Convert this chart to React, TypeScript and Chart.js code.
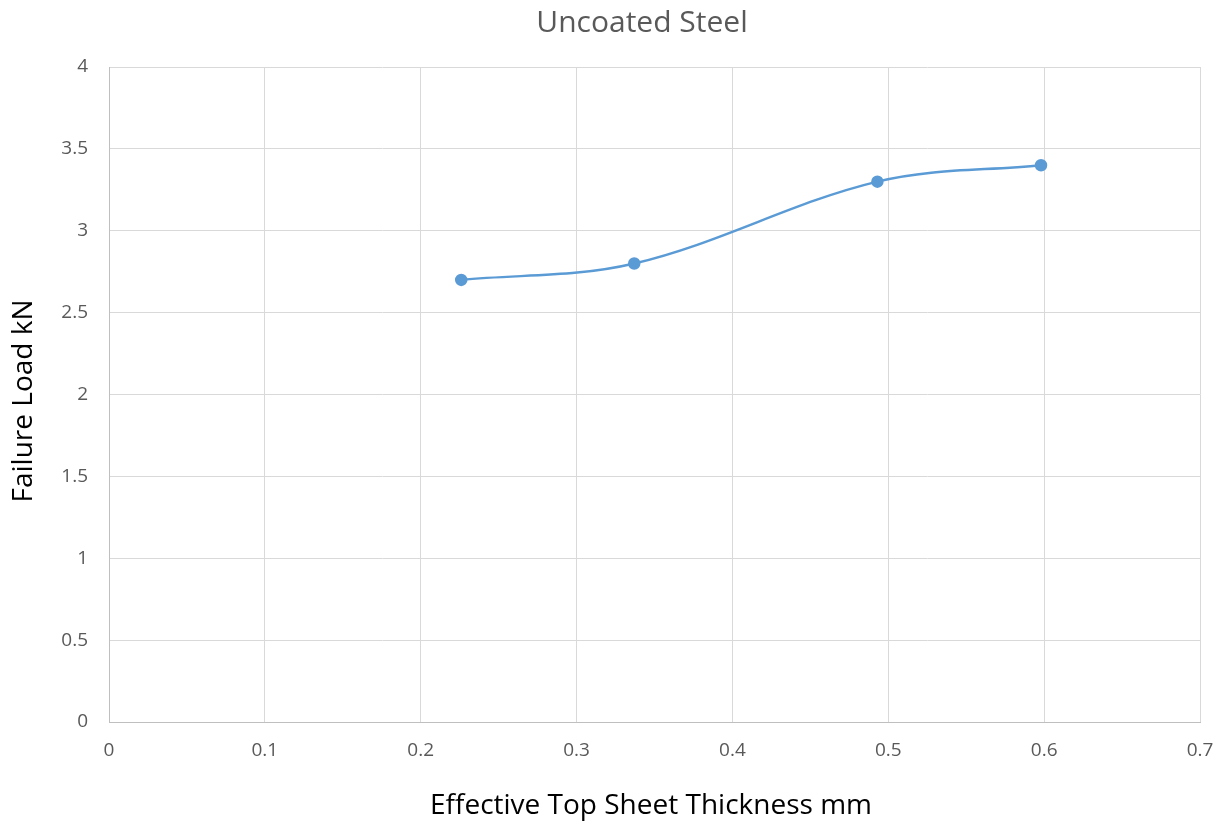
import React, { useEffect, useRef } from "react";
import { Chart, registerables } from "chart.js";

Chart.register(...registerables);

const thickness = [0.226, 0.337, 0.493, 0.598];
const failureLoad = [2.7, 2.8, 3.3, 3.4];
const xTicksMax = 0.7;
const yTicksMax = 4;
const chartTitle = "Uncoated Steel";
const xTitle = "Effective Top Sheet Thickness mm";
const yTitle = "Failure Load kN";

const FONT = "'Open Sans', Lato, sans-serif";

const titlesPlugin = {
  id: "titlesPlugin",
  afterDraw(chart: any) {
    const ctx = chart.ctx;
    ctx.save();
    ctx.textAlign = "center";
    ctx.textBaseline = "alphabetic";
    ctx.fillStyle = "#595959";
    ctx.font = `30px ${FONT}`;
    ctx.fillText(chartTitle, 642, 32);
    ctx.fillStyle = "#000000";
    ctx.font = `28px ${FONT}`;
    ctx.fillText(xTitle, 651, 814);
    ctx.translate(32, 401);
    ctx.rotate(-Math.PI / 2);
    ctx.fillText(yTitle, 0, 0);
    ctx.restore();
  },
};

export default function App() {
  const ref = useRef<HTMLCanvasElement | null>(null);
  useEffect(() => {
    if (!ref.current) return;
    const chart = new Chart(ref.current, {
      type: "scatter",
      data: {
        datasets: [
          {
            data: thickness.map((x, i) => ({ x, y: failureLoad[i] })),
            showLine: true,
            borderColor: "#5b9bd5",
            backgroundColor: "#5b9bd5",
            borderWidth: 2.5,
            pointRadius: 5,
            pointHoverRadius: 5,
            tension: 0.35,
          },
        ],
      },
      options: {
        responsive: false,
        animation: false,
        layout: { padding: { left: 0, right: 25, top: 67, bottom: 0 } },
        plugins: {
          legend: { display: false },
          tooltip: { enabled: false },
          title: { display: false },
        },
        scales: {
          x: {
            type: "linear",
            min: 0,
            max: xTicksMax,
            ticks: {
              stepSize: 0.1,
              color: "#595959",
              font: { family: FONT, size: 19 },
              padding: 17,
              callback: (v: any) => String(Math.round(Number(v) * 10) / 10),
            },
            grid: { color: "#d9d9d9", drawTicks: false },
            border: { color: "#bfbfbf" },
            afterFit: (s: any) => {
              s.height = 103;
              s.paddingLeft = 0;
              s.paddingRight = 0;
            },
          },
          y: {
            type: "linear",
            min: 0,
            max: yTicksMax,
            ticks: {
              stepSize: 0.5,
              color: "#595959",
              font: { family: FONT, size: 19 },
              padding: 21,
              callback: (v: any) => String(Math.round(Number(v) * 10) / 10),
            },
            grid: { color: "#d9d9d9", drawTicks: false },
            border: { color: "#bfbfbf" },
            afterFit: (s: any) => {
              s.width = 109;
              s.paddingTop = 0;
              s.paddingBottom = 0;
            },
          },
        },
      },
      plugins: [titlesPlugin],
    });
    return () => chart.destroy();
  }, []);
  return (
    <div style={{ position: "fixed", left: 0, top: 0, width: 1225, height: 825, background: "#fff" }}>
      <canvas ref={ref} width={1225} height={825} style={{ display: "block" }} />
    </div>
  );
}
